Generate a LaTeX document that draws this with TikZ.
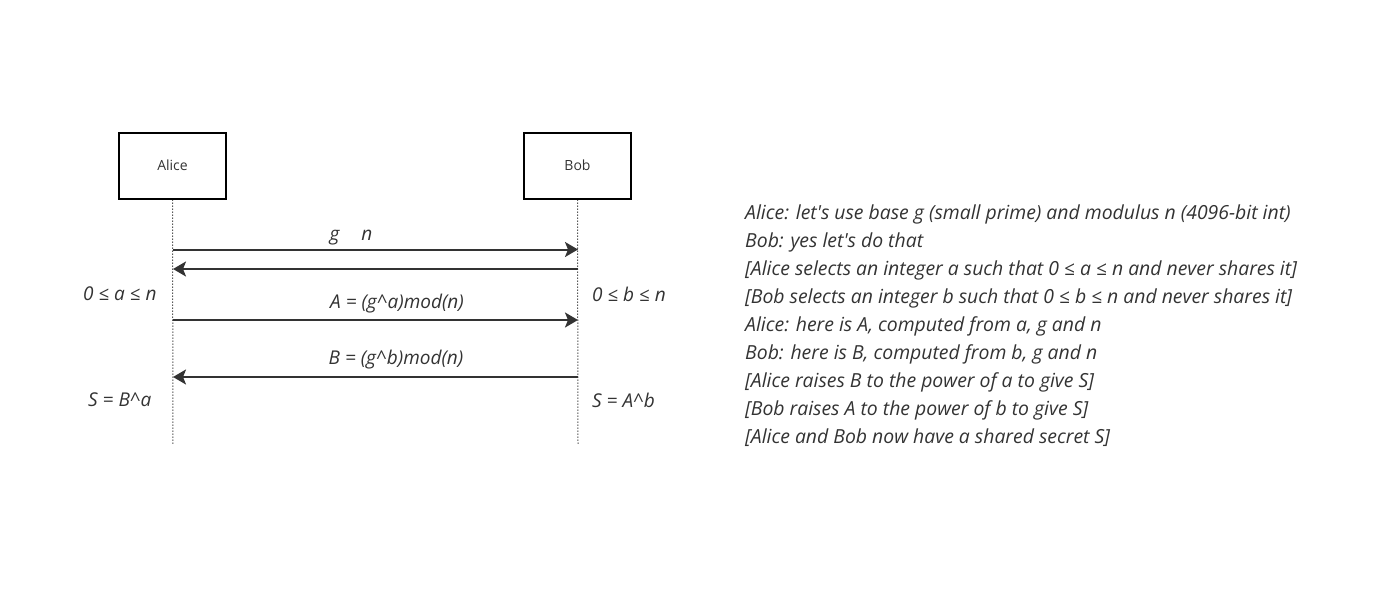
\documentclass[tikz,border=0pt]{standalone}
\usepackage{fontspec}
\setmainfont{Open Sans}
\usetikzlibrary{arrows.meta}
\definecolor{ink}{HTML}{333333}
\newcommand{\apo}{\textquotesingle}
\begin{document}
\begin{tikzpicture}[x=1pt,y=-1pt,
  actor/.style={draw=black,line width=2pt,minimum width=107pt,minimum height=66pt,inner sep=0pt,font=\fontsize{14}{16}\selectfont,text=ink},
  life/.style={draw=black,line width=1pt,dotted},
  msg/.style={draw=ink,line width=2pt,-{Stealth[length=13pt,width=15pt,inset=3pt]}},
  lbl/.style={font=\fontsize{19}{21}\selectfont\itshape,text=ink,inner sep=0pt},
  note/.style={font=\fontsize{19.4}{28}\selectfont\itshape,text=ink,inner sep=0pt,align=left,anchor=north west}]
\useasboundingbox (0,0) rectangle (1397,602);
\node[actor] (alice) at (172.5,165.5) {Alice};
\node[actor] (bob) at (577.5,165.5) {Bob};
\coordinate (aend) at (173,445);
\coordinate (bend) at (578,445);
\draw[life] (alice.south) -- (aend);
\draw[life] (bob.south) -- (bend);
\coordinate (a1) at (173,249.5); \coordinate (b1) at (578,249.5);
\coordinate (a2) at (173,269); \coordinate (b2) at (578,269);
\coordinate (a3) at (173,320); \coordinate (b3) at (578,320);
\coordinate (a4) at (173,377); \coordinate (b4) at (578,377);
\draw[msg] (a1) -- (b1);
\draw[msg] (b2) -- (a2);
\draw[msg] (a3) -- (b3);
\draw[msg] (b4) -- (a4);
\node[lbl] (l1) at (351,238) {g\hspace{22pt}n};
\node[lbl] (l3) at (397,304) {A = (g\textasciicircum a)mod(n)};
\node[lbl] (l4) at (396,360) {B = (g\textasciicircum b)mod(n)};
\node[lbl,anchor=west] (ca) at (83,294) {0 ≤ a ≤ n};
\node[lbl,anchor=west] (cb) at (592,294) {0 ≤ b ≤ n};
\node[lbl,anchor=west] (sa) at (88,400) {S = B\textasciicircum a};
\node[lbl,anchor=west] (sb) at (592,400) {S = A\textasciicircum b};
\node[note] (notes) at (745,205) {Alice: let\apo s use base g (small prime) and modulus n (4096-bit int)\\
Bob: yes let\apo s do that\\
{[}Alice selects an integer a such that 0 ≤ a ≤ n and never shares it]\\
{[}Bob selects an integer b such that 0 ≤ b ≤ n and never shares it]\\
Alice: here is A, computed from a, g and n\\
Bob: here is B, computed from b, g and n\\
{[}Alice raises B to the power of a to give S]\\
{[}Bob raises A to the power of b to give S]\\
{[}Alice and Bob now have a shared secret S]};
\end{tikzpicture}
\end{document}
